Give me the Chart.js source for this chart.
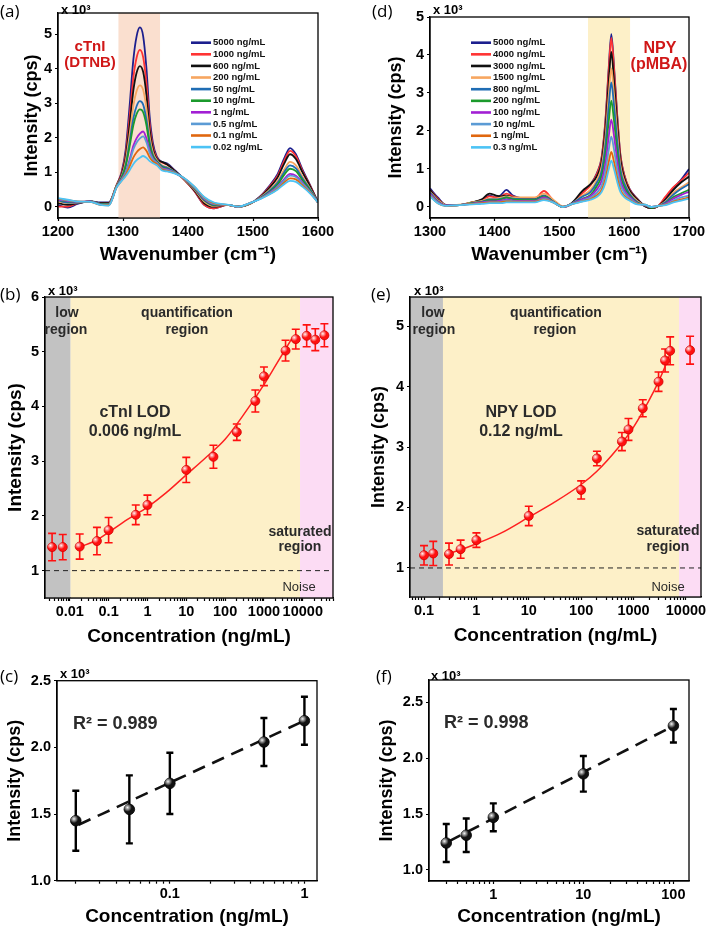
<!DOCTYPE html>
<html>
<head>
<meta charset="utf-8">
<script src="https://cdn.jsdelivr.net/npm/chart.js@4/dist/chart.umd.min.js"></script>
<style>
  body { margin: 0; background: #fff; width: 709px; height: 929px; position: relative; overflow: hidden; }
  canvas { position: absolute; }
</style>
</head>
<body>
<canvas id="chartA" width="354" height="268" style="left:0;top:0"></canvas>
<canvas id="chartD" width="355" height="268" style="left:354px;top:0"></canvas>
<canvas id="chartB" width="354" height="382" style="left:0;top:268px"></canvas>
<canvas id="chartE" width="355" height="382" style="left:354px;top:268px"></canvas>
<canvas id="chartC" width="354" height="279" style="left:0;top:650px"></canvas>
<canvas id="chartF" width="355" height="279" style="left:354px;top:650px"></canvas>
<script>
// ===== (a) cTnI spectra (x 10^3 cps) =====
const wnA = [1200,1215,1230,1250,1265,1278,1290,1298,1304,1310,1316,1321,1326,1331,1336,1341,1346,1352,1360,1368,1380,1395,1410,1425,1440,1460,1478,1495,1510,1525,1538,1548,1557,1566,1576,1588,1600];
const cTnI_5000 = [0.05,-0.03,0.08,0.15,0.12,0.12, 0.62, 1.01,1.63,2.88,4.28,4.95,5.2,4.95,4.03,2.62,1.85,1.45,1.3,1.25, 1.05,0.78,0.45,0.05,-0.05,0.05,0.0, 0.08,0.28,0.6,0.95,1.4,1.7,1.52,1.08,0.62,0.12];
const cTnI_1000 = [0.0,0.0,0.1,0.15,0.1,0.1, 0.62, 0.97,1.5,2.56,3.76,4.33,4.55,4.34,3.58,2.39,1.74,1.41,1.28,1.22, 1.03,0.76,0.45,0.05,-0.05,0.05,0.0, 0.08,0.27,0.57,0.9,1.33,1.62,1.46,1.04,0.6,0.12];
const cTnI_600 = [0.1,0.05,0.1,0.15,0.1,0.1, 0.6, 0.93,1.41,2.34,3.38,3.89,4.08,3.91,3.25,2.22,1.67,1.38,1.3,1.22, 1.03,0.77,0.47,0.1,0.0,0.05,0.0, 0.08,0.26,0.54,0.85,1.25,1.52,1.38,1.0,0.58,0.12];
const cTnI_200 = [0.15,0.1,0.12,0.15,0.08,0.08, 0.6, 0.89,1.3,2.07,2.93,3.36,3.52,3.39,2.86,2.03,1.58,1.35,1.2,1.15, 1.0,0.78,0.5,0.15,0.02,0.05,0.0, 0.08,0.25,0.48,0.75,1.08,1.3,1.2,0.88,0.52,0.12];
const cTnI_50 = [0.18,0.12,0.12,0.15,0.08,0.07, 0.58, 0.86,1.2,1.85,2.57,2.92,3.06,2.96,2.53,1.87,1.5,1.32,1.18,1.13, 1.0,0.79,0.52,0.18,0.04,0.05,0.0, 0.09,0.24,0.45,0.7,1.0,1.2,1.11,0.82,0.5,0.12];
const cTnI_10 = [0.2,0.15,0.13,0.15,0.07,0.06, 0.58, 0.84,1.16,1.73,2.37,2.69,2.82,2.74,2.37,1.78,1.46,1.31,1.15,1.1, 1.0,0.8,0.54,0.2,0.05,0.05,0.0, 0.09,0.23,0.42,0.65,0.92,1.1,1.03,0.77,0.47,0.12];
const cTnI_1 = [0.2,0.16,0.14,0.15,0.06,0.05, 0.56, 0.8,1.0,1.35,1.77,1.99,2.12,2.18,1.98,1.62,1.4,1.28,1.12,1.08, 0.98,0.8,0.55,0.22,0.07,0.05,0.0, 0.1,0.22,0.4,0.58,0.8,0.95,0.9,0.7,0.43,0.12];
const cTnI_05 = [0.22,0.18,0.14,0.14,0.06,0.05, 0.56, 0.78,0.97,1.29,1.67,1.86,1.98,2.04,1.87,1.56,1.37,1.27,1.1,1.06, 0.98,0.81,0.56,0.24,0.08,0.05,0.0, 0.1,0.22,0.38,0.56,0.76,0.9,0.86,0.67,0.42,0.12];
const cTnI_01 = [0.23,0.19,0.15,0.14,0.05,0.04, 0.55, 0.76,0.92,1.16,1.43,1.58,1.67,1.72,1.62,1.43,1.31,1.24,1.08,1.04, 0.97,0.81,0.57,0.26,0.1,0.05,0.0, 0.1,0.22,0.36,0.52,0.7,0.82,0.79,0.62,0.4,0.12];
const cTnI_002 = [0.25,0.2,0.15,0.14,0.05,0.03, 0.55, 0.75,0.88,1.05,1.24,1.35,1.42,1.47,1.42,1.32,1.26,1.2,1.05,1.02, 0.96,0.82,0.58,0.28,0.12,0.06,0.0, 0.1,0.21,0.35,0.5,0.65,0.75,0.72,0.58,0.38,0.12];
const seriesA = [cTnI_5000, cTnI_1000, cTnI_600, cTnI_200, cTnI_50, cTnI_10, cTnI_1, cTnI_05, cTnI_01, cTnI_002];
const labelsA = ['5000 ng/mL','1000 ng/mL','600 ng/mL','200 ng/mL','50 ng/mL','10 ng/mL','1 ng/mL','0.5 ng/mL','0.1 ng/mL','0.02 ng/mL'];

// ===== (d) NPY spectra =====
const wnD = [1300,1312,1325,1345,1365,1380,1392,1402,1410,1418,1428,1445,1462,1476,1490,1505,1520,1535,1548,1558,1565,1571,1576,1580,1584,1589,1594,1600,1608,1620,1632,1642,1652,1664,1676,1688,1700];
const npy_5000 = [0.49,0.25,0.05,0.05,0.12,0.18,0.3,0.25,0.32,0.45,0.3,0.22,0.2,0.28,0.15,0.0,0.1, 0.38,0.6,0.9,1.3,2.3,3.65,4.55,3.75,2.45,1.38,0.85,0.48,0.22, 0.02,-0.03,0.02,0.25,0.5,0.72,1.0];
const npy_4000 = [0.45,0.22,0.05,0.05,0.12,0.18,0.28,0.25,0.28,0.35,0.28,0.22,0.22,0.42,0.18,0.0,0.1, 0.36,0.57,0.88,1.27,2.25,3.57,4.45,3.67,2.4,1.35,0.83,0.47,0.21, 0.02,-0.03,0.02,0.28,0.52,0.7,0.9];
const npy_3000 = [0.45,0.2,0.05,0.05,0.12,0.2,0.35,0.3,0.28,0.3,0.25,0.22,0.22,0.3,0.15,0.0,0.12, 0.42,0.6,0.82,1.18,2.07,3.28,4.08,3.36,2.2,1.25,0.77,0.44,0.2, 0.02,-0.03,0.02,0.2,0.45,0.65,0.8];
const npy_1500 = [0.4,0.18,0.05,0.06,0.12,0.16,0.22,0.22,0.25,0.28,0.25,0.25,0.25,0.35,0.2,0.02,0.1, 0.3,0.45,0.72,1.06,1.84,2.93,3.65,3.0,1.96,1.1,0.69,0.38,0.16, 0.04,0.0,0.02,0.15,0.38,0.52,0.65];
const npy_800 = [0.38,0.15,0.04,0.05,0.1,0.14,0.2,0.2,0.22,0.25,0.22,0.2,0.2,0.3,0.15,0.0,0.1, 0.27,0.4,0.65,0.94,1.65,2.64,3.28,2.7,1.76,0.99,0.62,0.35,0.13, 0.04,0.0,0.02,0.13,0.33,0.48,0.6];
const npy_200 = [0.35,0.14,0.04,0.05,0.1,0.13,0.18,0.18,0.2,0.25,0.2,0.18,0.18,0.28,0.14,0.0,0.09, 0.21,0.32,0.56,0.82,1.41,2.25,2.8,2.3,1.5,0.85,0.53,0.31,0.11, 0.05,-0.02,0.02,0.1,0.26,0.36,0.45];
const npy_100 = [0.35,0.13,0.04,0.05,0.09,0.12,0.15,0.15,0.17,0.2,0.17,0.16,0.16,0.25,0.13,0.0,0.09, 0.2,0.29,0.47,0.69,1.16,1.85,2.3,1.9,1.24,0.71,0.45,0.27,0.1, 0.05,0.0,0.02,0.09,0.22,0.32,0.4];
const npy_10 = [0.32,0.12,0.03,0.05,0.08,0.1,0.13,0.13,0.14,0.17,0.15,0.14,0.14,0.22,0.13,0.0,0.08, 0.17,0.25,0.38,0.56,0.95,1.5,1.85,1.53,1.0,0.59,0.38,0.23,0.09, 0.06,0.0,0.02,0.07,0.17,0.25,0.3];
const npy_1 = [0.3,0.1,0.03,0.05,0.08,0.1,0.12,0.12,0.13,0.15,0.14,0.14,0.14,0.2,0.12,0.0,0.08, 0.15,0.21,0.31,0.45,0.75,1.18,1.45,1.2,0.79,0.46,0.3,0.19,0.08, 0.06,0.0,0.03,0.06,0.14,0.2,0.25];
const npy_03 = [0.28,0.1,0.03,0.05,0.07,0.08,0.1,0.1,0.1,0.12,0.12,0.12,0.12,0.18,0.12,0.0,0.08, 0.14,0.19,0.27,0.39,0.64,0.99,1.22,1.01,0.67,0.4,0.26,0.17,0.07, 0.06,0.0,0.03,0.05,0.12,0.17,0.22];
const seriesD = [npy_5000, npy_4000, npy_3000, npy_1500, npy_800, npy_200, npy_100, npy_10, npy_1, npy_03];
const labelsD = ['5000 ng/mL','4000 ng/mL','3000 ng/mL','1500 ng/mL','800 ng/mL','200 ng/mL','100 ng/mL','10 ng/mL','1 ng/mL','0.3 ng/mL'];

const lineColors = ['#1c1f8e','#ff3333','#111111','#f7a660','#1f6db4','#1b9a2c','#a21fd4','#5b9bd5','#e0670f','#4cc3f5'];

// ===== (b) cTnI calibration =====
const concB = [0.0035,0.0066,0.018,0.05,0.1,0.5,1,10,50,200,600,1000,3600,6600,12600,21000,36000];
const intB  = [1.43,1.43,1.44,1.54,1.74,2.02,2.2,2.84,3.08,3.53,4.1,4.55,5.02,5.23,5.29,5.22,5.3];
const errB  = [0.25,0.23,0.23,0.25,0.23,0.18,0.18,0.23,0.21,0.15,0.2,0.17,0.19,0.18,0.2,0.2,0.21];
const fitBX = [0.018,0.05,0.1,0.3,1,3,10,30,100,300,1000,2000,3600,5200];
const fitBY = [1.43,1.56,1.7,1.93,2.16,2.42,2.75,3.05,3.4,3.85,4.4,4.75,5.05,5.24];

// ===== (e) NPY calibration =====
const concE = [0.1,0.15,0.3,0.5,1,10,100,200,600,800,1500,3000,4000,5000,12000];
const intE  = [1.21,1.24,1.23,1.31,1.46,1.86,2.29,2.81,3.09,3.29,3.64,4.08,4.43,4.59,4.6];
const errE  = [0.16,0.2,0.18,0.15,0.12,0.16,0.15,0.12,0.15,0.18,0.14,0.16,0.19,0.23,0.23];
const fitEX = [0.3,0.5,1,3,10,30,100,200,500,1000,2000,3000,4000,5000];
const fitEY = [1.24,1.3,1.4,1.58,1.84,2.08,2.38,2.6,2.98,3.33,3.78,4.08,4.33,4.55];

// ===== (c) cTnI linear range =====
const concC = [0.02,0.05,0.1,0.5,1];
const intC  = [1.45,1.535,1.73,2.04,2.2];
const errC  = [0.225,0.255,0.23,0.18,0.18];
const fitCX = [0.021,1];
const fitCY = [1.42,2.2];

// ===== (f) NPY linear range =====
const concF = [0.3,0.5,1,10,100];
const intF  = [1.24,1.31,1.47,1.86,2.29];
const errF  = [0.17,0.15,0.125,0.16,0.15];
const fitFX = [0.32,90];
const fitFY = [1.255,2.27];

const noiseLevel = 1.0;

// ===== helpers =====
const FONT = "'Liberation Sans', Arial, Helvetica, sans-serif";
const LETTER_FONT = "17px 'Open Sans', 'Noto Sans', sans-serif";
const bold = size => ({ family: FONT, size: size, weight: 'bold', lineHeight: 1.2 });
const pts = (xs, ys) => xs.map((x, i) => ({ x: x, y: ys[i] }));

function isDecade(v) {
  const e = Math.log10(v);
  return Math.abs(e - Math.round(e)) < 1e-6;
}
function isNiceLog(v) {
  const e = Math.floor(Math.log10(v) + 1e-9);
  const m = v / Math.pow(10, e);
  return Math.abs(m - Math.round(m)) < 1e-6;
}

function makeScales(o) {
  const logX = o.xType === 'logarithmic';
  return {
    x: {
      type: o.xType, min: o.xMin, max: o.xMax,
      afterFit: s => { s.height = o.xHeight; },
      grid: {
        drawOnChartArea: false, drawTicks: true, tickLength: 3,
        tickColor: logX ? (c => (c.tick && isNiceLog(c.tick.value)) ? '#000' : 'rgba(0,0,0,0)') : '#000',
        tickWidth: 1.2
      },
      border: { display: true, color: '#000', width: 1.3 },
      ticks: Object.assign({
        font: bold(o.tickSize), color: '#000', maxRotation: 0, autoSkip: false, padding: 2
      }, logX ? { callback: v => isDecade(v) ? String(+v.toPrecision(4)) : '' }
              : { stepSize: o.xStep, callback: v => String(v) }),
      title: { display: true, text: o.xTitle, font: bold(o.xTitleSize), color: '#000', padding: { top: 0, bottom: o.xTitlePad } }
    },
    y: {
      type: 'linear', min: o.yMin, max: o.yMax,
      afterFit: s => { s.width = o.yWidth; },
      grid: { drawOnChartArea: false, drawTicks: true, tickLength: 3, tickColor: '#000', tickWidth: 1.2 },
      border: { display: true, color: '#000', width: 1.3 },
      ticks: {
        stepSize: o.yStep, includeBounds: false, font: bold(o.tickSize), color: '#000', padding: 3,
        callback: v => o.yDecimals ? v.toFixed(o.yDecimals) : String(v)
      },
      title: { display: true, text: 'Intensity (cps)', font: bold(o.yTitleSize), color: '#000', padding: { top: o.yTitlePad, bottom: 0 } }
    }
  };
}

function framePlugin() {
  return {
    id: 'frame',
    afterDraw(chart) {
      const { ctx, chartArea: a } = chart;
      ctx.save();
      ctx.strokeStyle = '#000';
      ctx.lineWidth = 1.3;
      ctx.strokeRect(a.left, a.top, a.right - a.left, a.bottom - a.top);
      ctx.restore();
    }
  };
}

function bandsPlugin(bands, noise) {
  return {
    id: 'bands',
    beforeDatasetsDraw(chart) {
      const { ctx, chartArea: a, scales: { x, y } } = chart;
      ctx.save();
      bands.forEach(b => {
        const x0 = b.from == null ? a.left : Math.max(a.left, x.getPixelForValue(b.from));
        const x1 = b.to == null ? a.right : Math.min(a.right, x.getPixelForValue(b.to));
        ctx.fillStyle = b.color;
        ctx.fillRect(x0, a.top, x1 - x0, a.bottom - a.top);
      });
      if (noise != null) {
        const yy = y.getPixelForValue(noise);
        ctx.strokeStyle = '#222';
        ctx.lineWidth = 1;
        ctx.setLineDash([5, 4]);
        ctx.beginPath();
        ctx.moveTo(a.left, yy);
        ctx.lineTo(a.right, yy);
        ctx.stroke();
      }
      ctx.restore();
    }
  };
}

function errorBarPlugin(errs, color, width, cap) {
  return {
    id: 'errbars',
    beforeDatasetsDraw(chart) {
      const meta = chart.getDatasetMeta(0);
      const ys = chart.scales.y;
      const ctx = chart.ctx;
      const data = chart.data.datasets[0].data;
      ctx.save();
      ctx.strokeStyle = color;
      ctx.lineWidth = width;
      meta.data.forEach((p, i) => {
        const top = ys.getPixelForValue(data[i].y + errs[i]);
        const bot = ys.getPixelForValue(data[i].y - errs[i]);
        ctx.beginPath();
        ctx.moveTo(p.x, top); ctx.lineTo(p.x, bot);
        ctx.moveTo(p.x - cap, top); ctx.lineTo(p.x + cap, top);
        ctx.moveTo(p.x - cap, bot); ctx.lineTo(p.x + cap, bot);
        ctx.stroke();
      });
      ctx.restore();
    }
  };
}

// small white shine on the round markers
function shinePlugin(r) {
  return {
    id: 'shine',
    afterDatasetsDraw(chart) {
      const meta = chart.getDatasetMeta(0);
      const ctx = chart.ctx;
      ctx.save();
      meta.data.forEach(p => {
        const g = ctx.createRadialGradient(p.x - r * 0.35, p.y - r * 0.35, 0, p.x - r * 0.35, p.y - r * 0.35, r * 0.8);
        g.addColorStop(0, 'rgba(255,255,255,0.95)');
        g.addColorStop(1, 'rgba(255,255,255,0)');
        ctx.fillStyle = g;
        ctx.beginPath();
        ctx.arc(p.x, p.y, r, 0, Math.PI * 2);
        ctx.fill();
      });
      ctx.restore();
    }
  };
}

function legendPlugin(labels, colors, x0, y0, dy) {
  return {
    id: 'inlegend',
    afterDatasetsDraw(chart) {
      const ctx = chart.ctx;
      ctx.save();
      ctx.font = 'bold 9.5px ' + FONT;
      ctx.textBaseline = 'middle';
      labels.forEach((lab, i) => {
        const y = y0 + i * dy;
        ctx.strokeStyle = colors[i];
        ctx.lineWidth = 2.6;
        ctx.beginPath();
        ctx.moveTo(x0, y);
        ctx.lineTo(x0 + 20, y);
        ctx.stroke();
        ctx.fillStyle = '#111';
        ctx.fillText(lab, x0 + 22, y);
      });
      ctx.restore();
    }
  };
}

function textPlugin(items) {
  return {
    id: 'texts',
    afterDraw(chart) {
      const ctx = chart.ctx;
      items.forEach(t => {
        ctx.save();
        ctx.font = t.font;
        ctx.fillStyle = t.color || '#000';
        ctx.textAlign = t.align || 'center';
        ctx.textBaseline = t.base || 'middle';
        ctx.fillText(t.text, t.x, t.y);
        ctx.restore();
      });
    }
  };
}

function spectraChart(id, xs, series, labels, o, extra) {
  return new Chart(document.getElementById(id), {
    type: 'line',
    data: {
      datasets: series.map((s, i) => ({
        label: labels[i],
        data: pts(xs, s),
        borderColor: lineColors[i],
        borderWidth: 1.8,
        pointRadius: 0,
        cubicInterpolationMode: 'monotone',
        order: series.length - i
      }))
    },
    options: {
      responsive: false, animation: false,
      layout: { padding: o.pad },
      plugins: { legend: { display: false }, tooltip: { enabled: false } },
      scales: makeScales(o)
    },
    plugins: [bandsPlugin(o.bands, null), framePlugin()].concat(extra)
  });
}

function calibChart(id, xs, ys, errs, fx, fy, o, extra) {
  return new Chart(document.getElementById(id), {
    type: 'line',
    data: {
      datasets: [
        {
          data: pts(xs, ys), showLine: false, pointRadius: o.r, pointHoverRadius: o.r,
          pointBackgroundColor: o.dot, pointBorderColor: o.dotEdge, pointBorderWidth: 0.8, order: 0
        },
        {
          data: pts(fx, fy), borderColor: o.fitColor, borderWidth: o.fitWidth, borderDash: o.fitDash || [],
          pointRadius: 0, cubicInterpolationMode: 'monotone', order: 1
        }
      ]
    },
    options: {
      responsive: false, animation: false,
      layout: { padding: o.pad },
      plugins: { legend: { display: false }, tooltip: { enabled: false } },
      scales: makeScales(o)
    },
    plugins: [bandsPlugin(o.bands || [], o.noise), errorBarPlugin(errs, o.errColor, o.errWidth, o.cap),
              shinePlugin(o.r), framePlugin()].concat(extra)
  });
}

const RED = '#d01818';
const GREY_TXT = '#2a2a2a';

// ===== (a) =====
spectraChart('chartA', wnA, seriesA, labelsA, {
  pad: { top: 13, right: 36, left: 0, bottom: 0 },
  xType: 'linear', xMin: 1200, xMax: 1600, xStep: 100, xHeight: 50,
  yMin: -0.33, yMax: 5.62, yStep: 1, yWidth: 58,
  tickSize: 14.5, xTitle: 'Wavenumber (cm\u207B\u00B9)', xTitleSize: 19, xTitlePad: 2,
  yTitleSize: 18, yTitlePad: 21,
  bands: [{ from: 1293, to: 1357, color: '#fadfcf' }]
}, [
  legendPlugin(labelsA, lineColors, 191, 42.7, 11.6),
  textPlugin([
    { text: '(a)', x: 0, y: 17, font: LETTER_FONT, align: 'left', base: 'alphabetic' },
    { text: 'x 10\u00B3', x: 61, y: 14, font: 'bold 13px ' + FONT, align: 'left', base: 'alphabetic' },
    { text: 'cTnI', x: 90, y: 47, font: 'bold 15px ' + FONT, color: RED },
    { text: '(DTNB)', x: 90, y: 63, font: 'bold 15px ' + FONT, color: RED }
  ])
]);

// ===== (d) =====
spectraChart('chartD', wnD, seriesD, labelsD, {
  pad: { top: 17, right: 20, left: 0, bottom: 0 },
  xType: 'linear', xMin: 1300, xMax: 1700, xStep: 100, xHeight: 50,
  yMin: -0.29, yMax: 5, yStep: 1, yWidth: 76,
  tickSize: 14.5, xTitle: 'Wavenumber (cm\u207B\u00B9)', xTitleSize: 19, xTitlePad: 2,
  yTitleSize: 18, yTitlePad: 31,
  bands: [{ from: 1544, to: 1609, color: '#fdf0c8' }]
}, [
  legendPlugin(labelsD, lineColors, 117, 42.7, 11.63),
  textPlugin([
    { text: '(d)', x: 18, y: 17, font: LETTER_FONT, align: 'left', base: 'alphabetic' },
    { text: 'x 10\u00B3', x: 79, y: 14, font: 'bold 13px ' + FONT, align: 'left', base: 'alphabetic' },
    { text: 'NPY', x: 306, y: 49, font: 'bold 16px ' + FONT, color: RED },
    { text: '(pMBA)', x: 305, y: 65, font: 'bold 16px ' + FONT, color: RED }
  ])
]);

// ===== (b) =====
calibChart('chartB', concB, intB, errB, fitBX, fitBY, {
  pad: { top: 29, right: 21, left: 0, bottom: 0 },
  xType: 'logarithmic', xMin: 0.0023, xMax: 60000, xHeight: 52,
  yMin: 0.5, yMax: 6, yStep: 1, yWidth: 45,
  tickSize: 14.5, xTitle: 'Concentration (ng/mL)', xTitleSize: 19, xTitlePad: 2,
  yTitleSize: 19, yTitlePad: 4,
  r: 4.5, dot: '#ff1010', dotEdge: '#d00000', fitColor: '#ff2020', fitWidth: 1.5,
  errColor: '#ff1010', errWidth: 1.6, cap: 4,
  noise: noiseLevel,
  bands: [
    { from: null, to: 0.0105, color: '#c2c2c2' },
    { from: 0.0105, to: 8500, color: '#fdf0c8' },
    { from: 8500, to: null, color: '#fcdcf4' }
  ]
}, [
  textPlugin([
    { text: '(b)', x: 0, y: 32, font: LETTER_FONT, align: 'left', base: 'alphabetic' },
    { text: 'x 10\u00B3', x: 48, y: 27, font: 'bold 13px ' + FONT, align: 'left', base: 'alphabetic' },
    { text: 'low', x: 67, y: 45, font: 'bold 14px ' + FONT, color: GREY_TXT },
    { text: 'region', x: 66, y: 62, font: 'bold 14px ' + FONT, color: GREY_TXT },
    { text: 'quantification', x: 187, y: 45, font: 'bold 14px ' + FONT, color: GREY_TXT },
    { text: 'region', x: 187, y: 62, font: 'bold 14px ' + FONT, color: GREY_TXT },
    { text: 'cTnI LOD', x: 135, y: 145, font: 'bold 16px ' + FONT, color: GREY_TXT },
    { text: '0.006 ng/mL', x: 135, y: 164, font: 'bold 16px ' + FONT, color: GREY_TXT },
    { text: 'saturated', x: 300, y: 264, font: 'bold 14px ' + FONT, color: GREY_TXT },
    { text: 'region', x: 300, y: 279, font: 'bold 14px ' + FONT, color: GREY_TXT },
    { text: 'Noise', x: 299, y: 319, font: '13px ' + FONT, color: GREY_TXT }
  ])
]);

// ===== (e) =====
calibChart('chartE', concE, intE, errE, fitEX, fitEY, {
  pad: { top: 29, right: 8, left: 0, bottom: 0 },
  xType: 'logarithmic', xMin: 0.054, xMax: 19400, xHeight: 53,
  yMin: 0.52, yMax: 5.48, yStep: 1, yWidth: 56,
  tickSize: 14.5, xTitle: 'Concentration (ng/mL)', xTitleSize: 19, xTitlePad: 2.6,
  yTitleSize: 18, yTitlePad: 14,
  r: 4.5, dot: '#ff1010', dotEdge: '#d00000', fitColor: '#ff2020', fitWidth: 1.5,
  errColor: '#ff1010', errWidth: 1.6, cap: 4,
  noise: noiseLevel,
  bands: [
    { from: null, to: 0.23, color: '#c2c2c2' },
    { from: 0.23, to: 7400, color: '#fdf0c8' },
    { from: 7400, to: null, color: '#fcdcf4' }
  ]
}, [
  textPlugin([
    { text: '(e)', x: 17, y: 32, font: LETTER_FONT, align: 'left', base: 'alphabetic' },
    { text: 'x 10\u00B3', x: 60, y: 27, font: 'bold 13px ' + FONT, align: 'left', base: 'alphabetic' },
    { text: 'low', x: 79, y: 45, font: 'bold 14px ' + FONT, color: GREY_TXT },
    { text: 'region', x: 80, y: 62, font: 'bold 14px ' + FONT, color: GREY_TXT },
    { text: 'quantification', x: 202, y: 45, font: 'bold 14px ' + FONT, color: GREY_TXT },
    { text: 'region', x: 201, y: 62, font: 'bold 14px ' + FONT, color: GREY_TXT },
    { text: 'NPY LOD', x: 167, y: 145, font: 'bold 16px ' + FONT, color: GREY_TXT },
    { text: '0.12 ng/mL', x: 167, y: 164, font: 'bold 16px ' + FONT, color: GREY_TXT },
    { text: 'saturated', x: 314, y: 263, font: 'bold 14px ' + FONT, color: GREY_TXT },
    { text: 'region', x: 314, y: 279, font: 'bold 14px ' + FONT, color: GREY_TXT },
    { text: 'Noise', x: 314, y: 319, font: '13px ' + FONT, color: GREY_TXT }
  ])
]);

// ===== (c) =====
calibChart('chartC', concC, intC, errC, fitCX, fitCY, {
  pad: { top: 30.7, right: 37, left: 0, bottom: 0 },
  xType: 'logarithmic', xMin: 0.0145, xMax: 1.24, xHeight: 48.3,
  yMin: 1.0, yMax: 2.5, yStep: 0.5, yDecimals: 1, yWidth: 57,
  tickSize: 14.5, xTitle: 'Concentration (ng/mL)', xTitleSize: 19, xTitlePad: 0.6,
  yTitleSize: 18, yTitlePad: 4.7,
  r: 5.3, dot: '#111', dotEdge: '#000', fitColor: '#111', fitWidth: 2.6, fitDash: [13, 8],
  errColor: '#000', errWidth: 2.4, cap: 3.5
}, [
  textPlugin([
    { text: '(c)', x: 0, y: 32, font: LETTER_FONT, align: 'left', base: 'alphabetic' },
    { text: 'x 10\u00B3', x: 60, y: 28, font: 'bold 13px ' + FONT, align: 'left', base: 'alphabetic' },
    { text: 'R\u00B2 = 0.989', x: 73, y: 74, font: 'bold 18px ' + FONT, color: GREY_TXT, align: 'left' }
  ])
]);

// ===== (f) =====
calibChart('chartF', concF, intF, errF, fitFX, fitFY, {
  pad: { top: 30, right: 20, left: 0, bottom: 0 },
  xType: 'logarithmic', xMin: 0.193, xMax: 149, xHeight: 48,
  yMin: 0.9, yMax: 2.7, yStep: 0.5, yDecimals: 1, yWidth: 75,
  tickSize: 14.5, xTitle: 'Concentration (ng/mL)', xTitleSize: 19, xTitlePad: 0.6,
  yTitleSize: 18, yTitlePad: 22,
  r: 5.3, dot: '#111', dotEdge: '#000', fitColor: '#111', fitWidth: 2.6, fitDash: [13, 8],
  errColor: '#000', errWidth: 2.4, cap: 3.5
}, [
  textPlugin([
    { text: '(f)', x: 22, y: 32, font: LETTER_FONT, align: 'left', base: 'alphabetic' },
    { text: 'x 10\u00B3', x: 77, y: 30, font: 'bold 13px ' + FONT, align: 'left', base: 'alphabetic' },
    { text: 'R\u00B2 = 0.998', x: 90, y: 73, font: 'bold 18px ' + FONT, color: GREY_TXT, align: 'left' }
  ])
]);
</script>
</body>
</html>
